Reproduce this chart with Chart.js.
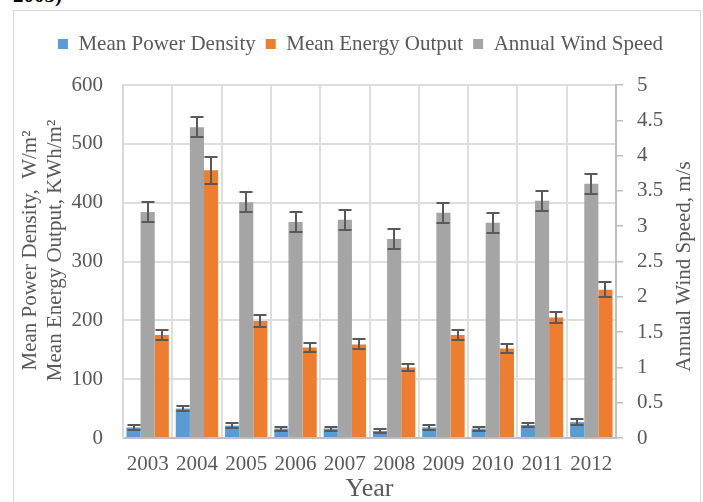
<!DOCTYPE html>
<html>
<head>
<meta charset="utf-8">
<script src="https://cdn.jsdelivr.net/npm/chart.js@4.4.0/dist/chart.umd.min.js"></script>
<style>
  html, body { margin: 0; padding: 0; background: #fff; }
  #wrap { position: relative; width: 703px; height: 502px; overflow: hidden; }
  #frame { position: absolute; left: 13px; top: 10px; width: 686px; height: 520px; border: 1px solid #d9d9d9; }
  #cut { position: absolute; left: 13px; top: -15px; font: bold 21px "Liberation Serif", serif; line-height: 21px; color: #000; }
  canvas { position: absolute; left: 0; top: 0; }
</style>
</head>
<body>
<div id="wrap">
  <div id="cut">2003)</div>
  <div id="frame"></div>
  <canvas id="windChart" width="703" height="502"></canvas>
</div>
<script>
// données
const years = ['2003', '2004', '2005', '2006', '2007', '2008', '2009', '2010', '2011', '2012'];
const powerDensity = [18, 50, 21, 16, 16, 12, 18, 16, 22, 27];
const powerDensityErr = [4, 4, 4, 3.5, 3.5, 3, 4, 3.5, 4, 4.5];
const energyOutput = [175, 455, 199, 154, 159, 120, 175, 152, 205, 252];
const energyOutputErr = [9, 23, 10.5, 8, 8.5, 6, 9, 8, 10, 12.5];
const windSpeed = [3.2, 4.4, 3.34, 3.06, 3.09, 2.82, 3.19, 3.05, 3.36, 3.6];
const windSpeedErr = [0.14, 0.14, 0.14, 0.14, 0.14, 0.14, 0.14, 0.14, 0.14, 0.14];
const leftTicks = [0, 100, 200, 300, 400, 500, 600];
const rightTicks = [0, 0.5, 1, 1.5, 2, 2.5, 3, 3.5, 4, 4.5, 5];
const legendOrder = ['Mean Power Density', 'Mean Energy Output', 'Annual Wind Speed'];
const leftTitle = ['Mean Power Density,  W/m²', 'Mean Energy Output, KWh/m²'];
const rightTitle = 'Annual Wind Speed, m/s';

const textColor = '#595959';
const fontFamily = '"Liberation Serif", "Times New Roman", serif';

// barres d'erreur dessinées après les barres
const errorBars = {
    id: 'errorBars',
    afterDatasetsDraw(chart) {
        const ctx = chart.ctx;
        ctx.save();
        ctx.strokeStyle = '#595959';
        ctx.lineWidth = 2;
        chart.data.datasets.forEach((ds, i) => {
            const meta = chart.getDatasetMeta(i);
            const scale = chart.scales[meta.yAxisID];
            meta.data.forEach((bar, j) => {
                const v = ds.data[j];
                const e = ds.errors[j];
                const yTop = Math.round(scale.getPixelForValue(v + e));
                const yBot = Math.round(scale.getPixelForValue(v - e));
                const x = Math.round(bar.x);
                ctx.beginPath();
                ctx.moveTo(x, yTop);
                ctx.lineTo(x, yBot);
                ctx.moveTo(x - 6.5, yTop);
                ctx.lineTo(x + 6.5, yTop);
                ctx.moveTo(x - 6.5, yBot);
                ctx.lineTo(x + 6.5, yBot);
                ctx.stroke();
            });
        });
        ctx.restore();
    }
};

// titres des axes verticaux, tous deux lus de bas en haut (comme dans Excel)
const axisTitles = {
    id: 'axisTitles',
    afterDraw(chart) {
        const ctx = chart.ctx;
        const yl = chart.scales.y;
        const yr = chart.scales.y1;
        ctx.save();
        ctx.fillStyle = textColor;
        ctx.font = '21px ' + fontFamily;
        ctx.textAlign = 'center';
        ctx.textBaseline = 'middle';
        const midY = (yl.top + yl.bottom) / 2;
        ctx.save();
        ctx.translate(yl.left + 10, midY - 11);
        ctx.rotate(-Math.PI / 2);
        ctx.fillText(leftTitle[0], 0, 0);
        ctx.fillText(leftTitle[1], 0, 25);
        ctx.restore();
        ctx.save();
        ctx.translate(yr.right - 17, midY + 5);
        ctx.rotate(-Math.PI / 2);
        ctx.fillText(rightTitle, 0, 0);
        ctx.restore();
        ctx.restore();
    }
};

const ctx = document.getElementById('windChart').getContext('2d');
const windChart = new Chart(ctx, {
    type: 'bar',
    data: {
        labels: years,
        datasets: [
            { label: 'Mean Power Density', data: powerDensity, errors: powerDensityErr, backgroundColor: '#5B9BD5', yAxisID: 'y' },
            { label: 'Annual Wind Speed', data: windSpeed, errors: windSpeedErr, backgroundColor: '#A5A5A5', yAxisID: 'y1' },
            { label: 'Mean Energy Output', data: energyOutput, errors: energyOutputErr, backgroundColor: '#ED7D31', yAxisID: 'y' }
        ]
    },
    options: {
        responsive: false,
        animation: false,
        devicePixelRatio: 1,
        categoryPercentage: 0.86,
        barPercentage: 1,
        layout: { padding: { left: 20, right: 2, top: 23.5, bottom: 0 } },
        plugins: {
            tooltip: { enabled: false },
            legend: {
                position: 'top',
                labels: {
                    boxWidth: 10,
                    boxHeight: 10,
                    padding: 10,
                    color: textColor,
                    font: { family: fontFamily, size: 21 },
                    sort: (a, b) => legendOrder.indexOf(a.text) - legendOrder.indexOf(b.text)
                }
            },
            // titre vide qui sert d'espace entre la légende et le graphique
            title: {
                display: true,
                text: '',
                weight: 1,
                font: { size: 1, lineHeight: 1 },
                padding: { top: 0, bottom: 19.5 }
            }
        },
        scales: {
            x: {
                afterFit: (scale) => { scale.height = 64; },
                grid: { color: '#dedede', lineWidth: 2, drawTicks: false },
                border: { color: '#bfbfbf', width: 2 },
                ticks: { color: textColor, padding: 14, font: { family: fontFamily, size: 21 } },
                title: {
                    display: true,
                    text: 'Year',
                    color: textColor,
                    font: { family: fontFamily, size: 26, lineHeight: 1 },
                    padding: { top: 0, bottom: 0 }
                }
            },
            y: {
                position: 'left',
                min: leftTicks[0],
                max: leftTicks[leftTicks.length - 1],
                afterFit: (scale) => { scale.width = 103; },
                afterBuildTicks: (scale) => { scale.ticks = leftTicks.map(v => ({ value: v })); },
                grid: { color: '#dedede', lineWidth: 2, drawTicks: false },
                border: { color: '#d9d9d9', width: 2 },
                ticks: { color: textColor, padding: 20, font: { family: fontFamily, size: 21 }, callback: (v) => String(v) }
            },
            y1: {
                position: 'right',
                min: rightTicks[0],
                max: rightTicks[rightTicks.length - 1],
                afterFit: (scale) => { scale.width = 85; },
                afterBuildTicks: (scale) => { scale.ticks = rightTicks.map(v => ({ value: v })); },
                grid: { drawOnChartArea: false, color: '#bfbfbf', lineWidth: 1.5, tickLength: 7 },
                border: { color: '#bfbfbf', width: 2 },
                ticks: { color: textColor, padding: 14, font: { family: fontFamily, size: 21 }, callback: (v) => String(v) }
            }
        }
    },
    plugins: [errorBars, axisTitles]
});
</script>
</body>
</html>
